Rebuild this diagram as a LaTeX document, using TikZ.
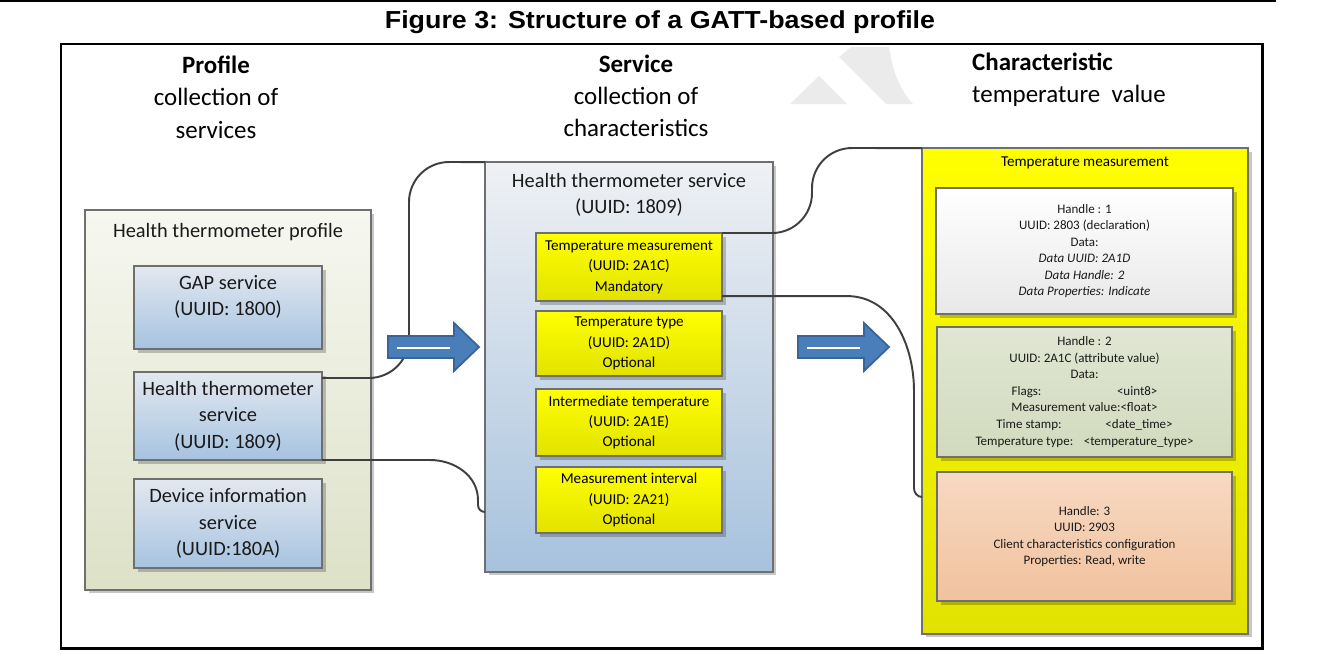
\documentclass[tikz,border=0pt]{standalone}
\usepackage{fontspec}
\setmainfont{Carlito}
\newfontfamily\capfont[FakeStretch=1.09]{Liberation Sans}
\usetikzlibrary{shadows}
\definecolor{GattLine}{HTML}{6F6F6F}
\definecolor{GattWire}{HTML}{3F3F3F}
\definecolor{GattText}{HTML}{1A1A1A}
\definecolor{GattOliveTop}{HTML}{F6F7F0}
\definecolor{GattOliveBot}{HTML}{DDE1C7}
\definecolor{GattBlueTop}{HTML}{E3E8EF}
\definecolor{GattBlueBot}{HTML}{A6C3E1}
\definecolor{GattSvcTop}{HTML}{EFF1F4}
\definecolor{GattSvcBot}{HTML}{A7C2DD}
\definecolor{GattYellowTop}{HTML}{FFFF00}
\definecolor{GattYellowBot}{HTML}{E2E200}
\definecolor{GattGreyBot}{HTML}{E8E8E8}
\definecolor{GattSageTop}{HTML}{E0E6D3}
\definecolor{GattSageBot}{HTML}{D2DABD}
\definecolor{GattPeachTop}{HTML}{F7D9C2}
\definecolor{GattPeachBot}{HTML}{F1C29E}
\definecolor{GattArrow}{HTML}{4A7EBB}
\definecolor{GattArrowLine}{HTML}{3A6497}
\definecolor{GattMark}{HTML}{EBEBEB}

\begin{document}
\begin{tikzpicture}[x=0.02cm,y=-0.02cm,
  box/.style={draw=GattLine,line width=.7pt,inner sep=0pt,outer sep=0pt,align=center,text=GattText,
    drop shadow={shadow xshift=2pt,shadow yshift=-2pt,opacity=.22,fill=black}},
  bluebox/.style={box,top color=GattBlueTop,bottom color=GattBlueBot,minimum width=3.76cm},
  yelbox/.style={box,top color=GattYellowTop,bottom color=GattYellowBot,text=black},
  head/.style={align=center,text=black,font=\fontsize{14.2}{18.4}\selectfont},
  big/.style={align=center,text=GattText,font=\fontsize{11.6}{15}\selectfont},
  small/.style={font=\fontsize{8.6}{11.6}\selectfont},
  tiny/.style={font=\fontsize{7.4}{9.4}\selectfont},
  wire/.style={draw=GattWire,line width=1.1pt}]
\path[use as bounding box] (0,0) rectangle (1317,660);
\fill[white] (0,0) rectangle (1317,660);
\fill[GattMark] (790,104) -- (819,76) -- (847,104) -- cycle;
\fill[GattMark] (839,57) -- (851,47) -- (889,47) .. controls (893,75) and (902,92) .. (913,104) -- (886,104) -- cycle;
\draw[line width=1.2pt] (0,1) -- (1276,1);
\node[font=\capfont\bfseries\fontsize{14}{16}\selectfont] (fig) at (660,22) {Figure 3: Structure of a GATT-based profile};
\draw[line width=1.7pt] (61,44) rectangle (1262,648);

\node[head] (hprof) at (216,97) {\textbf{Profile}\\collection of\\services};
\node[head] (hsvc) at (636,96) {\textbf{Service}\\collection of\\characteristics};
\node[head,anchor=west,align=left] (hchr) at (966,80) {\textbf{Characteristic}\\temperature\ \ value};

\node[box,top color=GattOliveTop,bottom color=GattOliveBot,minimum width=5.72cm,minimum height=7.6cm] (prof) at (228,400) {};
\node[big] (proft) at ([yshift=-12.5pt]prof.north) {Health thermometer profile};
\node[bluebox,big,minimum height=1.66cm] (gap) at (228,307.5) {GAP service\\(UUID: 1800)\\[-6pt]\strut};
\node[bluebox,big,minimum height=1.76cm] (hts) at (228,416) {Health thermometer\\service\\(UUID: 1809)};
\node[bluebox,big,minimum height=1.78cm] (dis) at (228,523.5) {Device information\\service\\(UUID:180A)};

\node[box,top color=GattSvcTop,bottom color=GattSvcBot,minimum width=5.76cm,minimum height=8.2cm] (svc) at (629,367) {};
\node[big] (svct) at ([yshift=-18.5pt]svc.north) {Health thermometer service\\(UUID: 1809)};
\node[yelbox,small,minimum width=3.72cm,minimum height=1.36cm] (tm) at (629,267) {Temperature measurement\\(UUID: 2A1C)\\Mandatory};
\node[yelbox,small,minimum width=3.72cm,minimum height=1.30cm] (tt) at (629,343.5) {Temperature type\\(UUID: 2A1D)\\Optional};
\node[yelbox,small,minimum width=3.72cm,minimum height=1.34cm] (it) at (629,422.5) {Intermediate temperature\\(UUID: 2A1E)\\Optional};
\node[yelbox,small,minimum width=3.72cm,minimum height=1.32cm] (mi) at (629,500) {Measurement interval\\(UUID: 2A21)\\Optional};

\node[yelbox,minimum width=6.52cm,minimum height=9.72cm] (chr) at (1085,391) {};
\node[small,text=black] (chrt) at ([yshift=-8.5pt]chr.north) {Temperature measurement};
\node[box,tiny,top color=white,bottom color=GattGreyBot,minimum width=5.94cm,minimum height=2.52cm] (decl) at (1084.5,251) {Handle : 1\\UUID: 2803 (declaration)\\Data:\\\textit{Data UUID: 2A1D}\\\textit{Data Handle: 2}\\\textit{Data Properties: Indicate}};
\node[box,tiny,top color=GattSageTop,bottom color=GattSageBot,minimum width=5.9cm,minimum height=2.6cm] (val) at (1084.5,392) {Handle : 2\\UUID: 2A1C (attribute value)\\Data:\\Flags:\hspace{43pt}<uint8>\\Measurement value:<float>\\Time stamp:\hspace{25pt}<date\_time>\\Temperature type:\hspace{6pt}<temperature\_type>};
\node[box,tiny,top color=GattPeachTop,bottom color=GattPeachBot,minimum width=5.9cm,minimum height=2.58cm] (cccd) at (1084.5,536.5) {Handle: 3\\UUID: 2903\\Client characteristics configuration\\Properties: Read, write};

\coordinate (bendA) at (409,162);
\coordinate (hookB) at (485,512);
\coordinate (bendC) at (812,148);
\coordinate (hookD) at (922,497);
\draw[wire,rounded corners=0.8cm] ([yshift=-3.4pt]hts.north east) -| (bendA) -- (svc.north west);
\draw[wire] (hts.south east) -- ++(108,0) to[out=0,in=90] ++(48,40) -- ++(0,5) to[out=-90,in=180] (svc.west |- hookB);
\draw[wire,rounded corners=0.8cm] (tm.north east) -| (bendC) -- (chr.north west);
\draw[wire] ([yshift=2.8pt]tm.south east) -- ++(125,0) to[out=0,in=90] ++(67,95) -- ++(0,97) to[out=-90,in=180] (chr.west |- hookD);

\foreach \ax in {388,798}{
  \filldraw[fill=GattArrow,draw=GattArrowLine,line width=1pt,line join=miter] (\ax,336) -- (\ax+66,336) -- (\ax+66,323) -- (\ax+91,347) -- (\ax+66,371) -- (\ax+66,358) -- (\ax,358) -- cycle;
  \draw[white,line width=.6pt] (\ax+9,348) -- (\ax+62,348);
}
\end{tikzpicture}
\end{document}
